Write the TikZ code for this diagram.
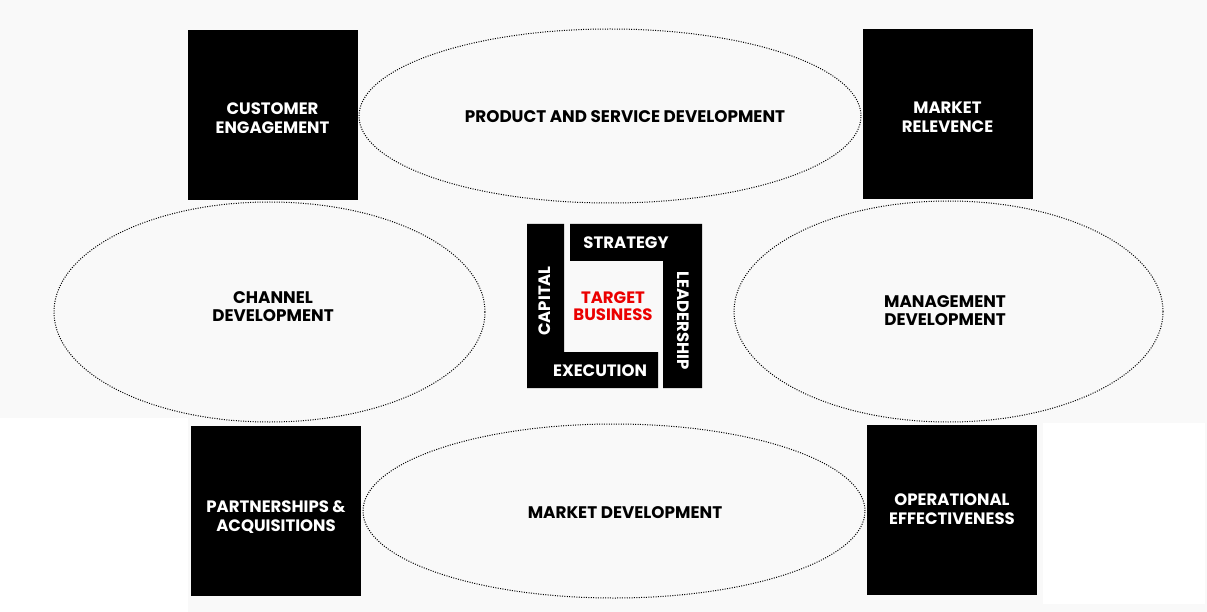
\documentclass[tikz,border=0pt]{standalone}
\usepackage{fontspec}
\setmainfont{Poppins}
\usetikzlibrary{shapes.geometric,positioning}
\definecolor{bggray}{RGB}{249,249,249}
\definecolor{targetred}{RGB}{235,0,0}
\tikzset{block/.style={fill=black,inner sep=0pt,minimum width=170pt,minimum height=170pt},
         blocktext/.style={text=white,align=center,yshift=-3pt,font=\bfseries\fontsize{16.5}{19}\selectfont},
         area/.style={ellipse,draw,line width=1pt,dash pattern=on 1pt off 1.4pt,inner sep=0pt},
         areatext/.style={align=center,font=\bfseries\fontsize{16.8}{18}\selectfont},
         bartext/.style={text=white,font=\bfseries\fontsize{16.5}{17}\selectfont}}

\begin{document}
\begin{tikzpicture}[x=1pt,y=-1pt]
  \useasboundingbox (0,0) rectangle (1207,612);
  % background
  \fill[bggray] (0,0) rectangle (1207,612);
  \fill[white] (0,418) rectangle (188,612);
  \fill[white] (1043,423) rectangle (1205,604);
  % ellipses
  \node[area,minimum width=502pt,minimum height=174pt] (product) at (610,116) {};
  \node[area,minimum width=431pt,minimum height=220pt] (channel) at (269.5,312) {};
  \node[area,minimum width=429pt,minimum height=221pt] (management) at (948.5,311.5) {};
  \node[area,minimum width=502pt,minimum height=174pt] (market) at (614,511) {};
  \node[areatext] (producttxt) at (625,117) {PRODUCT AND SERVICE DEVELOPMENT};
  \node[areatext] (channeltxt) at (273,307) {CHANNEL\\DEVELOPMENT};
  \node[areatext] (managementtxt) at (945,311) {MANAGEMENT\\DEVELOPMENT};
  \node[areatext] (markettxt) at (625,513) {MARKET DEVELOPMENT};
  % corner blocks
  \node[block,label={[blocktext]center:CUSTOMER\\ENGAGEMENT}] (customer) at (272.5,115) {};
  \node[block,label={[blocktext]center:MARKET\\RELEVENCE}] (relevence) at (947.5,114) {};
  \node[block,label={[blocktext,yshift=-3pt]center:PARTNERSHIPS \&\\ACQUISITIONS}] (partners) at (276,511) {};
  \node[block,label={[blocktext,yshift=4pt]center:OPERATIONAL\\EFFECTIVENESS}] (operational) at (952,510) {};
  % target business
  \fill (527,224) rectangle (564,388) (527,352) rectangle (658,388);
  \fill (570,224) rectangle (702,261) (663,224) rectangle (702,388);
  \node[bartext] (strategy) at (626,243) {STRATEGY};
  \node[bartext,rotate=90] (capital) at (545,301) {CAPITAL};
  \node[bartext,rotate=-90] (leadership) at (683,321) {LEADERSHIP};
  \node[bartext] (execution) at (600,371) {EXECUTION};
  \node[align=center,text=targetred,font=\bfseries\fontsize{16.5}{17}\selectfont] (target) at (613,306) {TARGET\\BUSINESS};
\end{tikzpicture}
\end{document}
